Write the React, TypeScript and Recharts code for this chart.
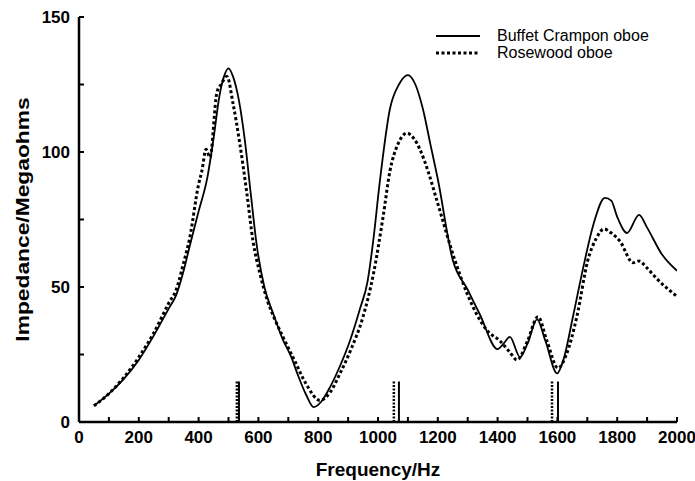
import React from 'react';
import { LineChart, Line, XAxis, YAxis, Legend, ReferenceLine } from 'recharts';

// Buffet Crampon oboe (solid)
const solidFreq = [50, 100, 150, 200, 250, 300, 325, 350, 370, 400, 430, 450, 470, 485, 500, 515, 535, 555, 575, 595, 620, 650, 680, 710, 730, 760, 785, 810, 840, 870, 906, 940, 965, 985, 1005, 1040, 1070, 1100, 1125, 1150, 1175, 1200, 1250, 1300, 1340, 1400, 1420, 1441, 1475, 1500, 1532, 1560, 1599, 1620, 1652, 1686, 1720, 1759, 1780, 1800, 1833, 1873, 1900, 1950, 2000];
const solidVal = [6, 10.5, 16, 23, 32, 42, 47, 56, 65, 78, 91, 105, 121, 128, 131, 128, 119, 104, 84, 65, 50, 40, 31, 24, 18, 10, 5.5, 7.5, 13, 20, 30, 42, 52, 68, 88, 116, 125, 128.5, 125, 116, 103, 90, 60, 49, 40, 27, 29, 31.5, 24, 29, 38, 30, 18, 23, 39, 57, 73, 83, 82, 76, 70, 76.7, 72, 62, 56];

// Rosewood oboe (dotted)
const dotFreq = [50, 100, 150, 200, 250, 300, 325, 350, 370, 400, 411, 425, 438, 461, 475, 495, 515, 538, 561, 582, 605, 630, 655, 680, 720, 760, 806, 840, 873, 910, 950, 985, 1017, 1040, 1067, 1097, 1120, 1140, 1170, 1197, 1257, 1300, 1364, 1408, 1440, 1465, 1500, 1535, 1565, 1602, 1630, 1665, 1702, 1730, 1756, 1780, 1809, 1853, 1873, 1900, 1933, 2000];
const dotVal = [6, 10.5, 16.5, 24, 33, 44, 49, 59, 68, 88, 93, 101, 98, 122, 125, 128, 118, 103, 85, 67, 55, 45, 38, 32, 23, 14, 8, 11, 18, 27, 39, 55, 76, 93, 103, 107, 105, 101, 92, 82, 60, 47, 34, 30, 26, 23, 30, 39, 30, 20, 25, 39, 60, 68, 71.5, 70, 67, 59, 59.6, 57, 53, 46.5];

// short vertical marks at the bottom
const solidMarks = [535, 1070, 1602];
const dotMarks = [528, 1053, 1582];
const markHeight = 15;

const xTicks = [0, 100, 200, 300, 400, 500, 600, 700, 800, 900, 1000, 1100, 1200, 1300, 1400, 1500, 1600, 1700, 1800, 1900, 2000];
const yTicks = [0, 25, 50, 75, 100, 125, 150];

const FONT = '"Liberation Sans", Arial, sans-serif';
const DOT_DASH = '3 2.5';

const solidData = solidFreq.map((f, i) => ({ f, v: solidVal[i] }));
const dotData = dotFreq.map((f, i) => ({ f, v: dotVal[i] }));

function LegendBox() {
  const row = (dashed: boolean, text: string) => (
    <div style={{ display: 'flex', alignItems: 'center', height: 17 }}>
      <svg width={46} height={10}>
        <line x1={1} y1={5} x2={45} y2={5} stroke="#000"
          strokeWidth={dashed ? 3 : 2} strokeDasharray={dashed ? DOT_DASH : undefined} />
      </svg>
      <span style={{ marginLeft: 16, fontSize: 16, color: '#000', fontFamily: FONT, lineHeight: '17px' }}>{text}</span>
    </div>
  );
  return (
    <div>
      {row(false, 'Buffet Crampon oboe')}
      {row(true, 'Rosewood oboe')}
    </div>
  );
}

// rotated y-axis title, stretched a little along its length like the original
function YTitle(props: any) {
  const vb = props.viewBox || { x: 0, y: 0, width: 0, height: 0 };
  const cy = vb.y + vb.height / 2;
  return (
    <text
      transform={`translate(22, ${cy}) rotate(-90) scale(1.2, 1)`}
      textAnchor="middle"
      dominantBaseline="central"
      fill="#000"
      fontSize={19}
      fontWeight="bold"
      fontFamily={FONT}
    >
      Impedance/Megaohms
    </text>
  );
}

export default function App() {
  const tickStyle = { fill: '#000', fontSize: 17, fontWeight: 'bold' as const, fontFamily: FONT };
  const frame = { stroke: '#000', strokeWidth: 2.5 };
  return (
    <div style={{ position: 'absolute', left: 0, top: 0, background: '#fff' }}>
      <LineChart width={695} height={481} data={solidData} margin={{ top: 17, right: 18, bottom: 0, left: 0 }}>
        <XAxis
          type="number"
          dataKey="f"
          domain={[0, 2000]}
          ticks={xTicks}
          interval={0}
          tickFormatter={(v: number) => (v % 200 === 0 ? String(v) : '')}
          tickSize={-5}
          tickMargin={14}
          height={59}
          axisLine={frame}
          tickLine={{ stroke: '#000', strokeWidth: 2 }}
          tick={tickStyle}
          allowDataOverflow
          label={{ value: 'Frequency/Hz', position: 'insideBottom', offset: 5, fill: '#000', fontSize: 19, fontWeight: 'bold', fontFamily: FONT }}
        />
        <XAxis xAxisId="top" orientation="top" type="number" domain={[0, 2000]} height={0} tick={false} tickLine={false} axisLine={frame} />
        <YAxis
          type="number"
          domain={[0, 150]}
          ticks={yTicks}
          interval={0}
          tickFormatter={(v: number) => (v % 50 === 0 ? String(v) : '')}
          tickSize={-5}
          tickMargin={14}
          width={79}
          axisLine={frame}
          tickLine={{ stroke: '#000', strokeWidth: 2 }}
          tick={tickStyle}
          allowDataOverflow
          label={<YTitle />}
        />
        <YAxis yAxisId="right" orientation="right" type="number" domain={[0, 150]} width={0} tick={false} tickLine={false} axisLine={frame} />
        {solidMarks.map((m) => (
          <ReferenceLine key={'s' + m} segment={[{ x: m, y: 0 }, { x: m, y: markHeight }]} stroke="#000" strokeWidth={2} />
        ))}
        {dotMarks.map((m) => (
          <ReferenceLine key={'d' + m} segment={[{ x: m, y: 0 }, { x: m, y: markHeight }]} stroke="#000" strokeWidth={2.5} strokeDasharray="2 1.5" />
        ))}
        <Legend
          layout="horizontal"
          verticalAlign="middle"
          content={() => <LegendBox />}
          wrapperStyle={{ position: 'absolute', left: 435, top: 27, width: 240 }}
        />
        <Line data={solidData} dataKey="v" type="monotone" stroke="#000" strokeWidth={1.8} dot={false} isAnimationActive={false} name="Buffet Crampon oboe" />
        <Line data={dotData} dataKey="v" type="monotone" stroke="#000" strokeWidth={3} strokeDasharray={DOT_DASH} dot={false} isAnimationActive={false} name="Rosewood oboe" />
      </LineChart>
    </div>
  );
}
